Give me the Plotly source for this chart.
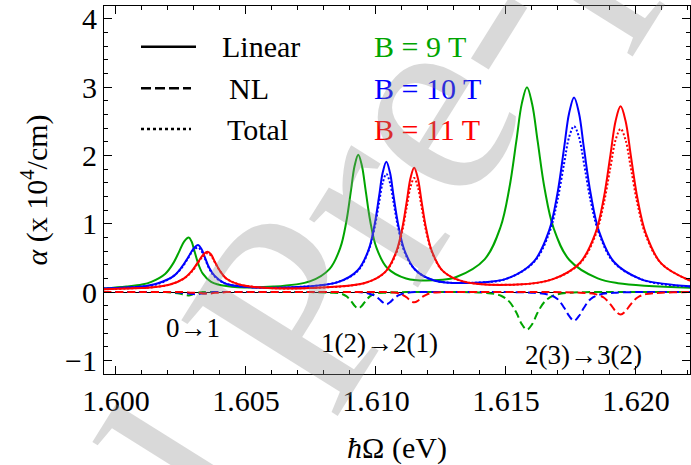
import plotly.graph_objects as go

# ---------------- data ----------------
# photon energy hbar*Omega (eV) and absorption alpha (x 10^4 /cm)
x_9T = [1.5995, 1.6004, 1.601, 1.60136, 1.6019, 1.6022, 1.60244, 1.60262, 1.6028, 1.60291, 1.60302, 1.60316,
        1.60334, 1.60366, 1.60424, 1.60606, 1.60748, 1.60822, 1.60863, 1.60886, 1.60904, 1.60918, 1.60932,
        1.60946, 1.6096, 1.60978, 1.61001, 1.61042, 1.61116, 1.61257, 1.61309, 1.61418, 1.61479, 1.61513,
        1.6154, 1.61561, 1.61581, 1.61601, 1.61622, 1.61649, 1.61683, 1.61744, 1.61853, 1.61931, 1.6222]
lin_9T = [0.05, 0.08, 0.11, 0.15, 0.27, 0.42, 0.60, 0.74, 0.80, 0.74, 0.60, 0.42, 0.27, 0.15, 0.09, 0.08,
          0.16, 0.34, 0.65, 1.03, 1.49, 1.85, 2.01, 1.85, 1.50, 1.04, 0.66, 0.36, 0.20, 0.18, 0.22, 0.48,
          0.95, 1.52, 2.21, 2.76, 3.00, 2.75, 2.21, 1.51, 0.94, 0.47, 0.20, 0.13, 0.06]
nl_9T = [0, 0, 0, 0, 0, -0.01, -0.02, -0.04, -0.05, -0.04, -0.02, -0.01, 0, 0, 0, 0, 0, -0.01, -0.02, -0.06,
         -0.13, -0.20, -0.24, -0.20, -0.13, -0.06, -0.02, -0.01, 0, 0, 0, -0.01, -0.05, -0.14, -0.30, -0.47,
         -0.55, -0.47, -0.30, -0.14, -0.05, -0.01, 0, 0, 0]

x_10T = [1.5995, 1.6006, 1.601, 1.60162, 1.6022, 1.60252, 1.60278, 1.60297, 1.60316, 1.60329, 1.60341,
         1.60358, 1.60379, 1.60417, 1.60484, 1.60678, 1.60856, 1.6093, 1.60971, 1.60994, 1.61012, 1.61026,
         1.6104, 1.61054, 1.61068, 1.61086, 1.61109, 1.6115, 1.61224, 1.61401, 1.61506, 1.61608, 1.61666,
         1.61698, 1.61724, 1.61743, 1.61762, 1.61781, 1.618, 1.61826, 1.61858, 1.61916, 1.62018, 1.62112, 1.6222]
lin_10T = [0.05, 0.07, 0.08, 0.13, 0.23, 0.36, 0.51, 0.63, 0.69, 0.63, 0.52, 0.36, 0.24, 0.13, 0.08, 0.07,
           0.15, 0.32, 0.61, 0.97, 1.40, 1.75, 1.91, 1.75, 1.40, 0.98, 0.62, 0.33, 0.17, 0.14, 0.20, 0.45,
           0.90, 1.44, 2.12, 2.62, 2.85, 2.62, 2.11, 1.44, 0.89, 0.44, 0.19, 0.12, 0.08]
nl_10T = [0, 0, 0, 0, 0, -0.01, -0.02, -0.03, -0.03, -0.02, -0.02, -0.01, 0, 0, 0, 0, 0, 0, -0.02, -0.05,
          -0.10, -0.15, -0.18, -0.15, -0.10, -0.05, -0.02, 0, 0, 0, 0, -0.01, -0.04, -0.10, -0.23, -0.35,
          -0.42, -0.35, -0.23, -0.10, -0.04, -0.01, 0, 0, 0]
tot_10T = [0.05, 0.07, 0.08, 0.12, 0.23, 0.35, 0.50, 0.61, 0.65, 0.60, 0.50, 0.35, 0.23, 0.13, 0.08, 0.07,
           0.15, 0.31, 0.60, 0.93, 1.31, 1.60, 1.73, 1.60, 1.31, 0.93, 0.60, 0.33, 0.17, 0.14, 0.20, 0.44,
           0.86, 1.34, 1.89, 2.27, 2.43, 2.27, 1.89, 1.33, 0.86, 0.43, 0.19, 0.11, 0.08]

x_11T = [1.5995, 1.601, 1.60112, 1.60208, 1.60262, 1.60292, 1.60316, 1.60334, 1.60352, 1.60366, 1.60381,
         1.604, 1.60424, 1.60467, 1.60544, 1.6075, 1.60963, 1.61037, 1.61078, 1.61101, 1.61119, 1.61133,
         1.61147, 1.61161, 1.61175, 1.61193, 1.61216, 1.61257, 1.61331, 1.61544, 1.61681, 1.61785, 1.61844,
         1.61876, 1.61902, 1.61922, 1.61941, 1.6196, 1.6198, 1.62006, 1.62038, 1.62097, 1.62201, 1.6222]
lin_11T = [0.04, 0.06, 0.06, 0.11, 0.20, 0.31, 0.44, 0.54, 0.59, 0.55, 0.44, 0.31, 0.20, 0.12, 0.07, 0.06,
           0.14, 0.30, 0.59, 0.93, 1.34, 1.67, 1.82, 1.67, 1.34, 0.93, 0.59, 0.31, 0.16, 0.11, 0.19, 0.43,
           0.86, 1.37, 2.01, 2.51, 2.72, 2.51, 2.01, 1.37, 0.86, 0.42, 0.18, 0.16]
nl_11T = [0, 0, 0, 0, 0, -0.01, -0.01, -0.02, -0.02, -0.02, -0.01, -0.01, 0, 0, 0, 0, 0, 0, -0.01, -0.04,
          -0.08, -0.13, -0.15, -0.13, -0.08, -0.04, -0.01, 0, 0, 0, 0, -0.01, -0.03, -0.08, -0.18, -0.28,
          -0.33, -0.28, -0.18, -0.08, -0.03, -0.01, 0, 0]
tot_11T = [0.04, 0.06, 0.06, 0.11, 0.20, 0.30, 0.43, 0.52, 0.57, 0.53, 0.43, 0.31, 0.20, 0.12, 0.07, 0.06,
           0.14, 0.30, 0.57, 0.89, 1.26, 1.54, 1.67, 1.54, 1.26, 0.89, 0.58, 0.31, 0.16, 0.11, 0.19, 0.42,
           0.83, 1.29, 1.83, 2.23, 2.39, 2.23, 1.83, 1.29, 0.83, 0.42, 0.18, 0.16]

field_labels = ['B = 9 T', 'B = 10 T', 'B = 11 T']
style_labels = ['Linear', 'NL', 'Total']
transitions = ['0→1', '1(2)→2(1)', '2(3)→3(2)']
transition_x = [1.60298, 1.61015, 1.61798]
transition_y = [-0.53, -0.74, -0.915]
x_ticks = [1.600, 1.605, 1.610, 1.615, 1.620]
y_ticks = [-1, 0, 1, 2, 3, 4]

# ---------------- figure ----------------
GREEN, BLUE, RED = 'rgb(0,165,0)', 'rgb(0,0,255)', 'rgb(255,0,0)'
FONT = 'Liberation Serif, DejaVu Serif, Noto Serif, serif'
LW = 2
DASH = '8px,4px'
DOT = '2px,2px'

fig = go.Figure()
series = [
    (x_9T, lin_9T, nl_9T, None, GREEN),
    (x_10T, lin_10T, nl_10T, tot_10T, BLUE),
    (x_11T, lin_11T, nl_11T, tot_11T, RED),
]
for xs, lin, nl, tot, col in series:
    fig.add_trace(go.Scatter(x=xs, y=lin, mode='lines', line=dict(color=col, width=LW, shape='spline'), showlegend=False))
    fig.add_trace(go.Scatter(x=xs, y=nl, mode='lines', line=dict(color=col, width=LW, shape='spline', dash=DASH), showlegend=False))
    if tot is not None:
        fig.add_trace(go.Scatter(x=xs, y=tot, mode='lines', line=dict(color=col, width=LW, shape='spline', dash=DOT), showlegend=False))

ax = dict(showline=True, linecolor='black', linewidth=1, mirror='ticks', ticks='inside', ticklen=8,
          tickcolor='black', showgrid=False, tickfont=dict(family=FONT, size=30, color='black'))
fig.update_xaxes(**ax, range=[1.59954, 1.62208], tickmode='array', tickvals=x_ticks,
                 ticktext=[f'{v:.3f}' for v in x_ticks],
                 minor=dict(dtick=0.001, tick0=1.6, ticks='inside', ticklen=4, tickcolor='black'),
                 zeroline=False,
                 title=dict(text='<i>ħ</i>Ω (eV)', font=dict(family=FONT, size=30, color='black'), standoff=21))
fig.update_yaxes(**ax, range=[-1.2, 4.19], tickmode='array', tickvals=y_ticks,
                 minor=dict(dtick=0.2, tick0=0, ticks='inside', ticklen=4, tickcolor='black'),
                 zeroline=True, zerolinecolor='black', zerolinewidth=1,
                 title=dict(text='<i>α</i> (x 10<sup>4</sup>/cm)', font=dict(family=FONT, size=30, color='black'), standoff=8))

W0, W1, H0, H1 = 104, 690, 6, 374
def px(xp): return (xp - W0) / (W1 - W0)
def py(yp): return (H1 - yp) / (H1 - H0)

rows = [46.7, 88.3, 129]
shapes = []
for yy, dash, xe in zip(rows, ['solid', '10px,4px', '3px,3px'], [196, 191, 191]):
    shapes.append(dict(type='line', xref='paper', yref='paper', x0=px(141), x1=px(xe), y0=py(yy), y1=py(yy),
                       line=dict(color='black', width=2.5, dash=dash)))
ann = []
for txt, xl, yy in zip(style_labels, [220, 227, 225], rows):
    ann.append(dict(text=txt, xref='paper', yref='paper', x=px(xl), y=py(yy), xanchor='left', yanchor='middle',
                    showarrow=False, font=dict(family=FONT, size=30, color='black')))
for txt, c, yy in zip(field_labels, [GREEN, BLUE, RED], rows):
    ann.append(dict(text=txt, xref='paper', yref='paper', x=px(372), y=py(yy), xanchor='left', yanchor='middle',
                    showarrow=False, font=dict(family=FONT, size=30, color=c)))
for txt, xx, yy in zip(transitions, transition_x, transition_y):
    ann.append(dict(text=txt, x=xx, y=yy, xref='x', yref='y', showarrow=False,
                    font=dict(family=FONT, size=27, color='black')))
ann.append(dict(text='Journal Pre-proof', xref='paper', yref='paper', x=px(300), y=py(297), xanchor='center',
                yanchor='middle', showarrow=False, textangle=-58,
                font=dict(family=FONT, size=280, color='rgba(140,140,140,0.33)')))

fig.update_layout(width=691, height=465, margin=dict(l=104, r=1, t=6, b=91), plot_bgcolor='white',
                  paper_bgcolor='white', shapes=shapes, annotations=ann, showlegend=False)
fig.write_html("out.html")
